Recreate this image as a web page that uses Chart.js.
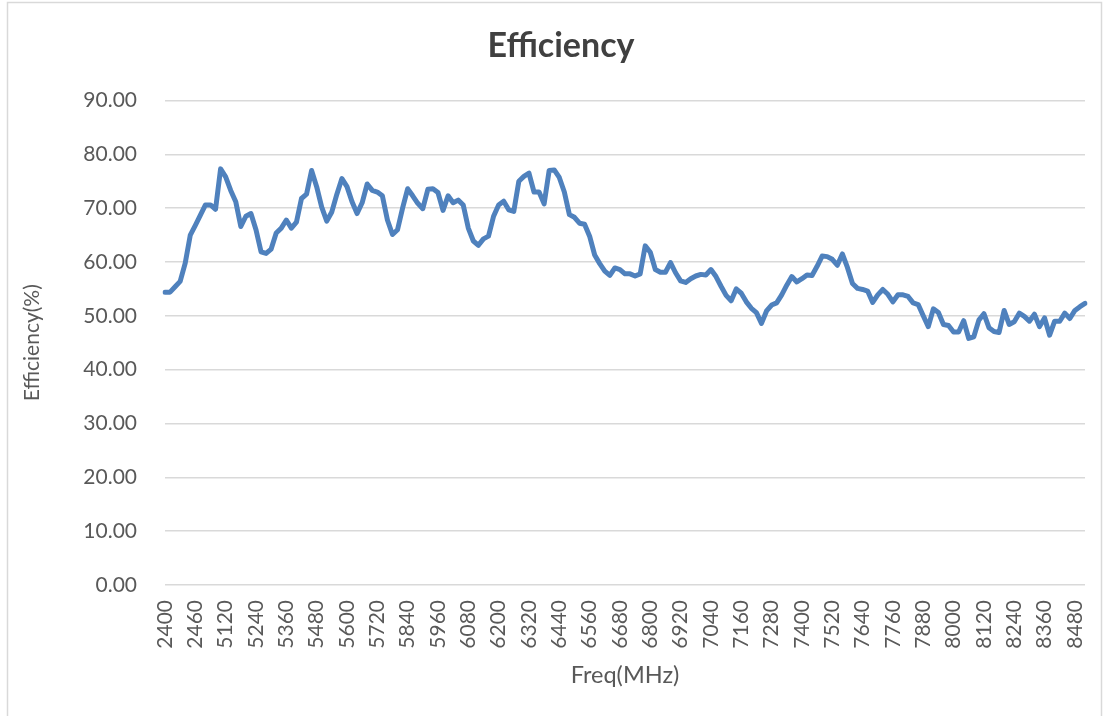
<!DOCTYPE html>
<html>
<head>
<meta charset="utf-8">
<script src="https://cdn.jsdelivr.net/npm/chart.js@4.4.1/dist/chart.umd.min.js"></script>
<style>
  html, body { margin: 0; padding: 0; background: #ffffff; }
  #wrap { width: 1110px; height: 716px; }
</style>
</head>
<body>
<div id="wrap"><canvas id="c" width="1110" height="716"></canvas></div>
<script>
const chartTitle = 'Efficiency';
const xTitle = 'Freq(MHz)';
const yTitle = 'Efficiency(%)';

const freqMHz = [
  2400,2410,2420,2430,2440,2450,
  2460,2470,2480,2490,2500,5100,
  5120,5140,5160,5180,5200,5220,
  5240,5260,5280,5300,5320,5340,
  5360,5380,5400,5420,5440,5460,
  5480,5500,5520,5540,5560,5580,
  5600,5620,5640,5660,5680,5700,
  5720,5740,5760,5780,5800,5820,
  5840,5860,5880,5900,5920,5940,
  5960,5980,6000,6020,6040,6060,
  6080,6100,6120,6140,6160,6180,
  6200,6220,6240,6260,6280,6300,
  6320,6340,6360,6380,6400,6420,
  6440,6460,6480,6500,6520,6540,
  6560,6580,6600,6620,6640,6660,
  6680,6700,6720,6740,6760,6780,
  6800,6820,6840,6860,6880,6900,
  6920,6940,6960,6980,7000,7020,
  7040,7060,7080,7100,7120,7140,
  7160,7180,7200,7220,7240,7260,
  7280,7300,7320,7340,7360,7380,
  7400,7420,7440,7460,7480,7500,
  7520,7540,7560,7580,7600,7620,
  7640,7660,7680,7700,7720,7740,
  7760,7780,7800,7820,7840,7860,
  7880,7900,7920,7940,7960,7980,
  8000,8020,8040,8060,8080,8100,
  8120,8140,8160,8180,8200,8220,
  8240,8260,8280,8300,8320,8340,
  8360,8380,8400,8420,8440,8460,
  8480,8500,8520
];

const efficiency = [
  54.4,54.4,55.4,56.4,59.8,65.0,
  66.8,68.7,70.6,70.6,69.8,77.3,
  75.8,73.3,71.2,66.6,68.5,69.0,
  66.0,61.9,61.6,62.4,65.4,66.3,
  67.8,66.3,67.4,71.8,72.6,77.0,
  74.0,70.2,67.6,69.3,72.6,75.5,
  74.0,71.2,69.0,71.0,74.5,73.3,
  73.0,72.3,67.8,65.1,66.0,70.0,
  73.6,72.3,70.9,69.9,73.5,73.6,
  72.9,69.6,72.3,71.0,71.5,70.6,
  66.3,63.9,63.1,64.3,64.8,68.5,
  70.6,71.3,69.7,69.4,75.0,75.9,
  76.5,73.0,73.0,70.8,77.0,77.1,
  75.7,73.0,68.8,68.3,67.2,67.0,
  64.8,61.3,59.7,58.3,57.5,58.9,
  58.6,57.8,57.8,57.4,57.8,63.0,
  61.8,58.6,58.1,58.1,59.9,58.0,
  56.5,56.2,56.9,57.4,57.7,57.6,
  58.6,57.3,55.5,53.8,52.8,55.0,
  54.2,52.6,51.4,50.6,48.6,50.9,
  52.0,52.4,53.9,55.7,57.3,56.3,
  56.9,57.6,57.5,59.2,61.1,61.0,
  60.5,59.4,61.5,59.0,56.0,55.1,
  54.9,54.6,52.5,53.9,54.9,54.0,
  52.6,53.9,53.9,53.6,52.4,52.1,
  50.0,48.0,51.3,50.6,48.4,48.2,
  47.0,47.0,49.1,45.8,46.1,49.2,
  50.4,47.8,47.1,46.9,51.0,48.4,
  48.9,50.5,49.9,49.0,50.3,48.0,
  49.6,46.4,49.0,49.0,50.5,49.5,
  51.0,51.7,52.3
];

const yMin = 0, yMax = 90, yStep = 10;
const xLabelEvery = 6;

const FONT = 'Lato, "Open Sans", "DejaVu Sans", sans-serif';
const TEXT = '#595959';
const GRID = '#d9d9d9';

const framePlugin = {
  id: 'frame',
  beforeDraw(chart) {
    const ctx = chart.ctx;
    ctx.save();
    ctx.fillStyle = '#ffffff';
    ctx.fillRect(0, 0, chart.width, chart.height);
    ctx.strokeStyle = '#d9d9d9';
    ctx.lineWidth = 1.5;
    ctx.strokeRect(7.5, 2.5, 1094, 730);
    ctx.restore();
  }
};

new Chart(document.getElementById('c'), {
  type: 'line',
  data: {
    labels: freqMHz,
    datasets: [{
      label: yTitle,
      data: efficiency,
      borderColor: '#4f81bd',
      backgroundColor: '#4f81bd',
      borderWidth: 5,
      pointRadius: 0,
      pointHoverRadius: 0,
      tension: 0,
      borderJoinStyle: 'round',
      borderCapStyle: 'round',
      fill: false
    }]
  },
  options: {
    responsive: false,
    animation: false,
    devicePixelRatio: 1,
    layout: { padding: { left: 37, right: 25, top: 0, bottom: 0 } },
    plugins: {
      legend: { display: false },
      tooltip: { enabled: false },
      title: {
        display: true,
        text: chartTitle,
        color: '#404040',
        font: { family: FONT, size: 34, weight: 'bold', lineHeight: 1.2 },
        padding: { top: 26, bottom: 33.7 }
      }
    },
    scales: {
      x: {
        type: 'category',
        offset: false,
        grid: { display: false, drawTicks: false },
        border: { display: false },
        ticks: {
          autoSkip: false,
          maxRotation: 90,
          minRotation: 90,
          padding: 15,
          color: TEXT,
          font: { family: FONT, size: 21 },
          callback: function(value, index) {
            return index % xLabelEvery === 0 ? String(this.getLabelForValue(value)) : '';
          }
        },
        title: {
          display: true,
          text: xTitle,
          color: TEXT,
          font: { family: FONT, size: 23.5, lineHeight: 1.2 },
          padding: { top: 0, bottom: 26 }
        },
        afterFit(s) { s.height = 131; s.paddingLeft = 0; s.paddingRight = 0; }
      },
      y: {
        min: yMin,
        max: yMax,
        grid: { color: GRID, lineWidth: 1.5, drawTicks: false },
        border: { display: false },
        ticks: {
          stepSize: yStep,
          padding: 28,
          color: TEXT,
          font: { family: FONT, size: 21 },
          callback: (v) => Number(v).toFixed(2)
        },
        title: {
          display: true,
          text: yTitle,
          color: TEXT,
          font: { family: FONT, size: 21, lineHeight: 1.2 },
          padding: { top: -17, bottom: 0 }
        },
        afterFit(s) { s.width = 128; }
      }
    }
  },
  plugins: [framePlugin]
});
</script>
</body>
</html>
